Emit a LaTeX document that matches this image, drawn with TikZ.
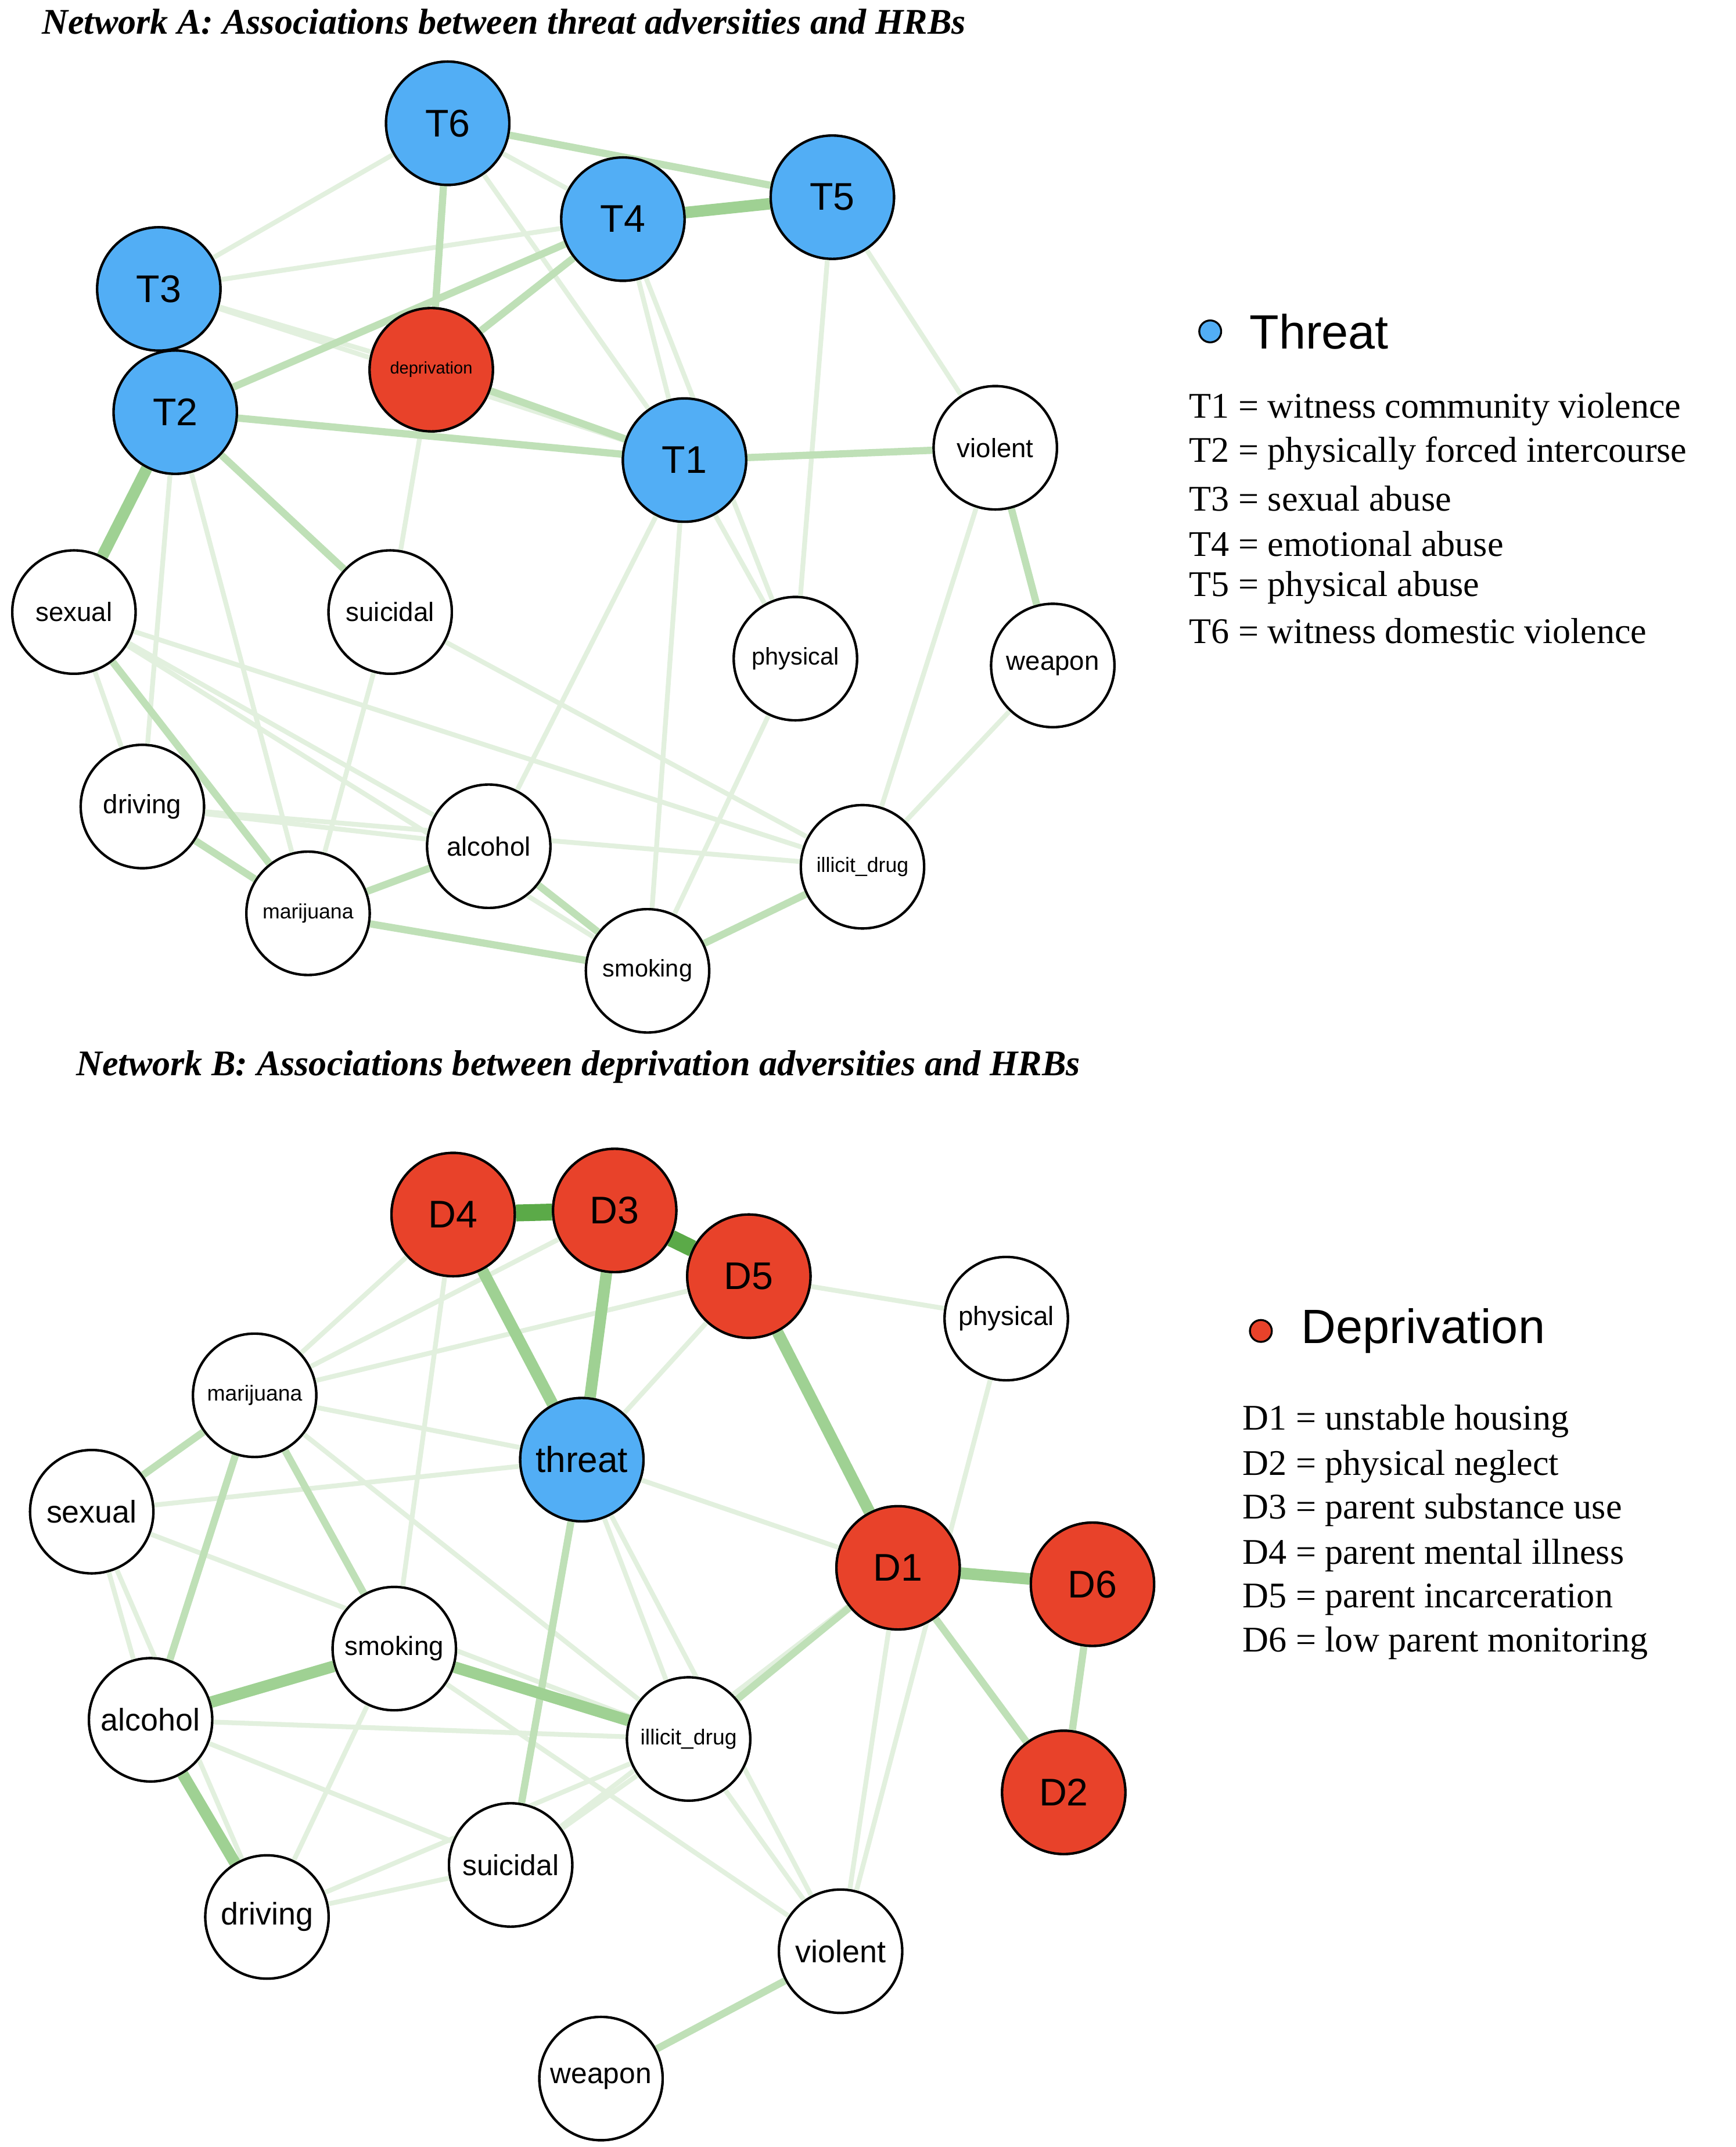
\documentclass[tikz,border=0pt]{standalone}
\usepackage{fontspec}
\setmainfont{Liberation Serif}
\setsansfont{Liberation Sans}
\begin{document}
\begin{tikzpicture}[x=0.01cm,y=-0.01cm,
 nd/.style={circle,draw=black,line width=0.5pt,fill=white,minimum size=0.9cm,inner sep=0pt,font=\sffamily\fontsize{5.5}{6}\selectfont},
 bl/.style={nd,fill=thr,font=\sffamily\fontsize{8}{9}\selectfont},
 rd/.style={nd,fill=dep,font=\sffamily\fontsize{8}{9}\selectfont},
 e1/.style={draw=eA,line width=1pt},
 e2/.style={draw=eB,line width=1.5pt},
 e3/.style={draw=eC,line width=2.4pt},
 e4/.style={draw=eD,line width=3.5pt},
 lg/.style={anchor=west,font=\fontsize{7.5}{8}\selectfont,inner sep=0pt},
 tt/.style={anchor=west,font=\bfseries\itshape\fontsize{7.5}{8}\selectfont,inner sep=0pt}]
\definecolor{thr}{HTML}{52AEF5}\definecolor{dep}{HTML}{E8422A}
\definecolor{eA}{HTML}{E2F0DE}\definecolor{eB}{HTML}{BFE0B7}\definecolor{eC}{HTML}{9FD193}\definecolor{eD}{HTML}{5BAA48}
\useasboundingbox (0,0) rectangle (1268,1568);
\node[tt] at (30,16) {Network A: Associations between threat adversities and HRBs};
\node[tt] at (55,779) {Network B: Associations between deprivation adversities and HRBs};
% Network A nodes
\node[bl] (T6) at (327,90) {T6};
\node[bl] (T4) at (455,160) {T4};
\node[bl] (T5) at (608,144) {T5};
\node[bl] (T3) at (116,211) {T3};
\node[bl] (T2) at (128,301) {T2};
\node[rd,font=\sffamily\fontsize{3.5}{4}\selectfont] (dp) at (315,270) {deprivation};
\node[bl] (T1) at (500,336) {T1};
\node[nd] (aviol) at (727,327) {violent};
\node[nd] (asex) at (54,447) {sexual};
\node[nd] (asui) at (285,447) {suicidal};
\node[nd,font=\sffamily\fontsize{5}{6}\selectfont] (aphy) at (581,481) {physical};
\node[nd] (aweap) at (769,486) {weapon};
\node[nd] (adriv) at (104,589) {driving};
\node[nd] (aalc) at (357,618) {alcohol};
\node[nd,font=\sffamily\fontsize{4.3}{5}\selectfont] (amar) at (225,667) {marijuana};
\node[nd,font=\sffamily\fontsize{4.3}{5}\selectfont] (aill) at (630,633) {illicit\_drug};
\node[nd,font=\sffamily\fontsize{5}{6}\selectfont] (asmo) at (473,709) {smoking};
\begin{scope}[on background layer/.style={}]
\end{scope}
% Network B nodes
\node[rd] (D4) at (331,887) {D4};
\node[rd] (D3) at (449,884) {D3};
\node[rd] (D5) at (547,932) {D5};
\node[nd] (bphy) at (735,963) {physical};
\node[nd,font=\sffamily\fontsize{4.5}{5}\selectfont] (bmar) at (186,1019) {marijuana};
\node[bl,font=\sffamily\fontsize{7.5}{8}\selectfont] (thr) at (425,1066) {threat};
\node[nd,font=\sffamily\fontsize{6.5}{7}\selectfont] (bsex) at (67,1104) {sexual};
\node[rd] (D1) at (656,1145) {D1};
\node[rd] (D6) at (798,1157) {D6};
\node[nd] (bsmo) at (288,1204) {smoking};
\node[nd,font=\sffamily\fontsize{6.5}{7}\selectfont] (balc) at (110,1256) {alcohol};
\node[nd,font=\sffamily\fontsize{4.5}{5}\selectfont] (bill) at (503,1270) {illicit\_drug};
\node[rd] (D2) at (777,1309) {D2};
\node[nd,font=\sffamily\fontsize{6}{7}\selectfont] (bsui) at (373,1362) {suicidal};
\node[nd,font=\sffamily\fontsize{6.5}{7}\selectfont] (bdriv) at (195,1400) {driving};
\node[nd,font=\sffamily\fontsize{6.5}{7}\selectfont] (bviol) at (614,1425) {violent};
\node[nd,font=\sffamily\fontsize{6}{7}\selectfont] (bweap) at (439,1518) {weapon};
% edges A (drawn behind by redrawing nodes afterwards)
\begin{scope}
\foreach \a/\b in {T6/T4,T3/T6,T3/T4,T3/T1,T4/T1,T6/T1,T5/aphy,aviol/aill,T1/asmo,asex/adriv,adriv/aalc,asex/asmo,asui/amar,T2/amar,T3/dp,asex/aalc,T5/aviol,T4/aphy,T1/aphy,dp/asui,aphy/asmo,T2/adriv,adriv/aill,asui/aill,T1/aalc,asex/aill,aill/aweap}
 \draw[e1] (\a) -- (\b);
\foreach \a/\b in {T6/T5,T6/dp,T4/dp,T2/T4,T2/T1,T2/asui,dp/T1,T1/aviol,asex/amar,amar/aalc,aalc/asmo,amar/asmo,asmo/aill,aviol/aweap,adriv/amar}
 \draw[e2] (\a) -- (\b);
\draw[e3] (T4) -- (T5);
\draw[e3] (T2) -- (asex);
% edges B
\foreach \a/\b in {D4/bmar,D3/bmar,D5/bmar,D5/bphy,bphy/bviol,thr/D1,bmar/thr,bsex/thr,thr/bviol,thr/bill,bsmo/bviol,balc/bill,bdriv/bill,bweap/bviol,bsex/balc,bsex/bdriv,bsmo/bdriv,bill/bviol,bsui/bill,D1/bviol,D1/bsui,balc/bsui,bmar/bill,D4/bsmo,bdriv/bsui,D5/thr,bsex/bill}
 \draw[e1] (\a) -- (\b);
\foreach \a/\b in {D1/D2,D6/D2,D1/bill,thr/bsui,bmar/bsmo,bmar/balc,bsex/bmar,bweap/bviol}
 \draw[e2] (\a) -- (\b);
\foreach \a/\b in {D4/thr,D3/thr,D5/D1,D1/D6,bsmo/bill,balc/bsmo,balc/bdriv}
 \draw[e3] (\a) -- (\b);
\draw[e4] (D4) -- (D3);
\draw[e4] (D3) -- (D5);
\end{scope}
% redraw nodes on top
\foreach \n/\s/\t/\f in {T6/bl/T6/8,T4/bl/T4/8,T5/bl/T5/8,T3/bl/T3/8,T2/bl/T2/8,T1/bl/T1/8,aviol/nd/violent/5.5,asex/nd/sexual/5.5,asui/nd/suicidal/5.5,aphy/nd/physical/5,aweap/nd/weapon/5.5,adriv/nd/driving/5.5,aalc/nd/alcohol/5.5,amar/nd/marijuana/4.3,aill/nd/illicit\_drug/4.3,asmo/nd/smoking/5,D4/rd/D4/8,D3/rd/D3/8,D5/rd/D5/8,bphy/nd/physical/5.5,bmar/nd/marijuana/4.5,thr/bl/threat/7.5,bsex/nd/sexual/6.5,D1/rd/D1/8,D6/rd/D6/8,bsmo/nd/smoking/5.5,balc/nd/alcohol/6.5,bill/nd/illicit\_drug/4.5,D2/rd/D2/8,bsui/nd/suicidal/6,bdriv/nd/driving/6.5,bviol/nd/violent/6.5,bweap/nd/weapon/6}
 \node[\s,font=\sffamily\fontsize{\f}{\f}\selectfont] at (\n) {\t};
\node[rd,font=\sffamily\fontsize{3.5}{4}\selectfont] at (dp) {deprivation};
% legends
\fill[thr,draw=black,line width=0.4pt] (884,242) circle (8);
\node[anchor=west,font=\sffamily\fontsize{10}{11}\selectfont,inner sep=0pt] at (912,242) {Threat};
\node[lg] at (868,299) {T1 = witness community violence};
\node[lg] at (868,331) {T2 = physically forced intercourse};
\node[lg] at (868,364) {T3 = sexual abuse};
\node[lg] at (868,397) {T4 = emotional abuse};
\node[lg] at (868,429) {T5 = physical abuse};
\node[lg] at (868,461) {T6 = witness domestic violence};
\fill[dep,draw=black,line width=0.4pt] (921,972) circle (8);
\node[anchor=west,font=\sffamily\fontsize{10}{11}\selectfont,inner sep=0pt] at (950,972) {Deprivation};
\node[lg] at (907,1038) {D1 = unstable housing};
\node[lg] at (907,1071) {D2 = physical neglect};
\node[lg] at (907,1103) {D3 = parent substance use};
\node[lg] at (907,1136) {D4 = parent mental illness};
\node[lg] at (907,1168) {D5 = parent incarceration};
\node[lg] at (907,1200) {D6 = low parent monitoring};
\end{tikzpicture}
\end{document}
